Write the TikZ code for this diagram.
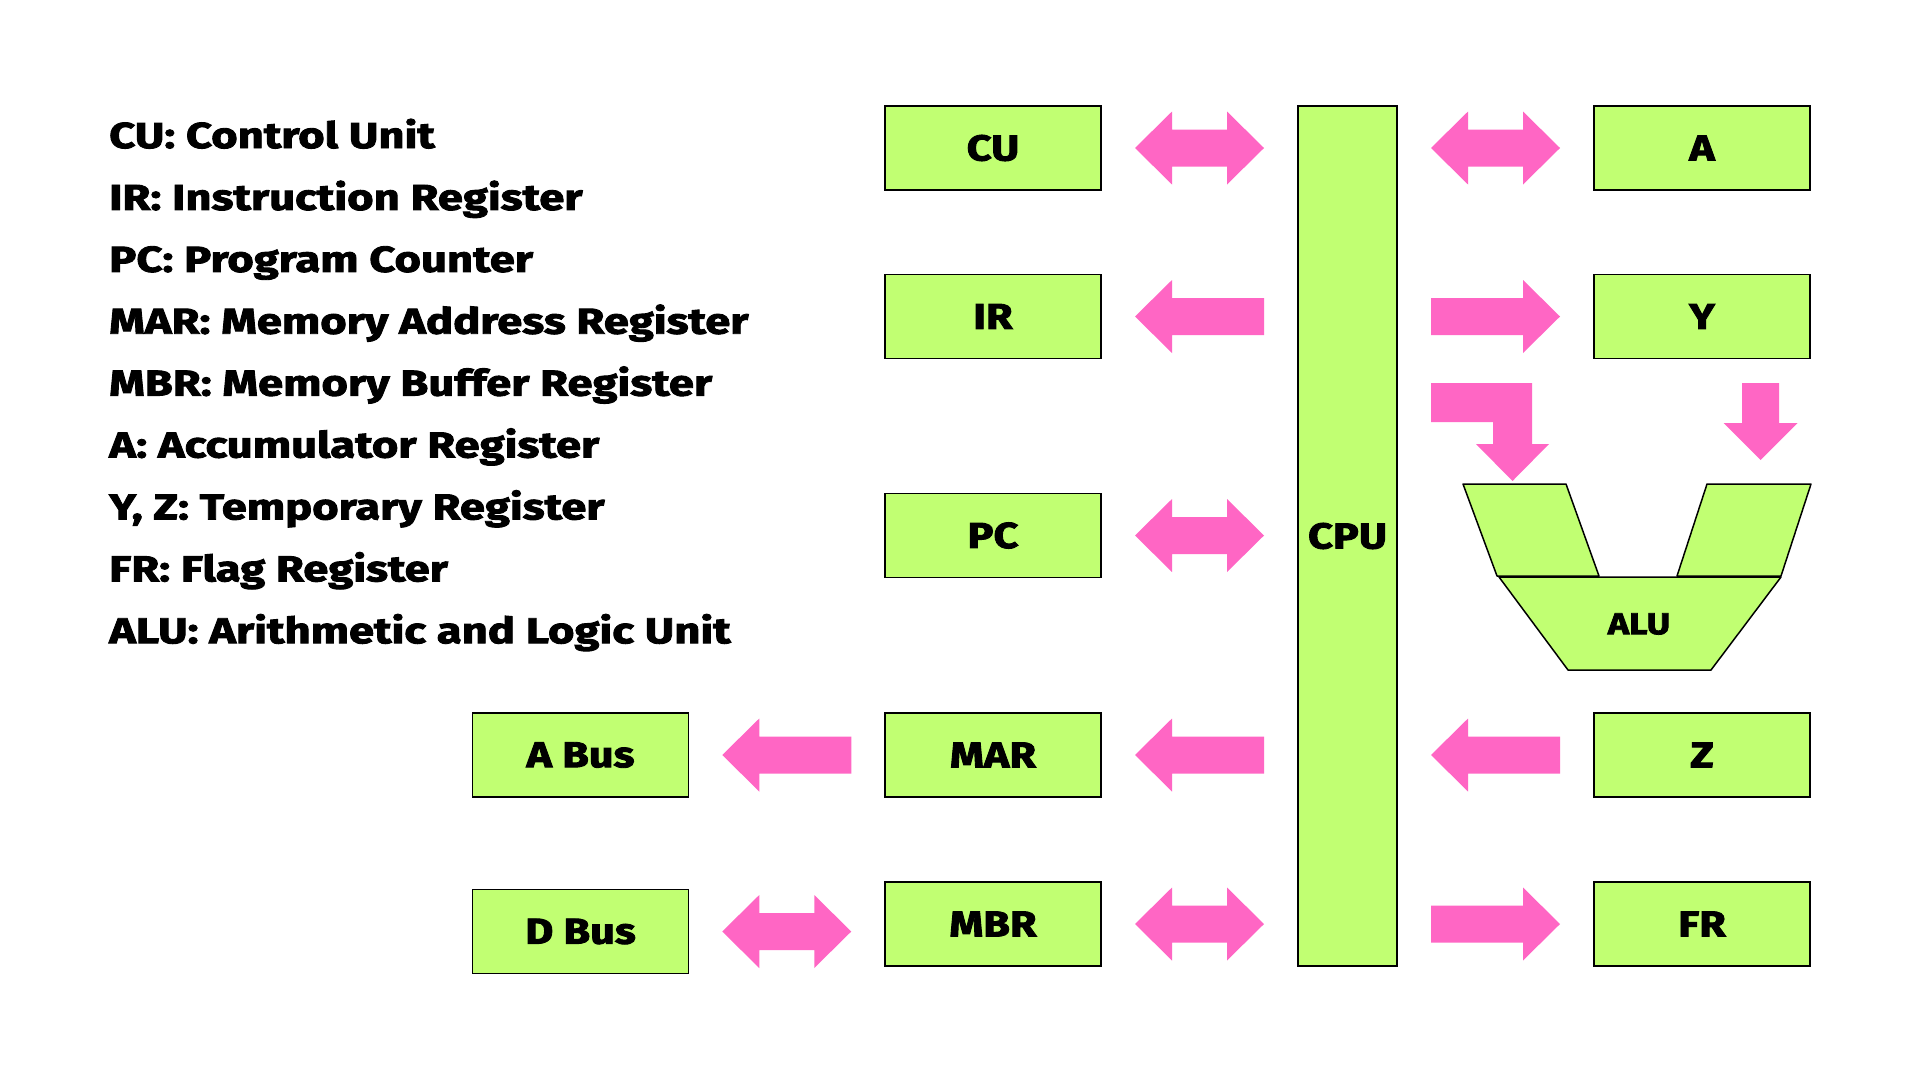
\documentclass[tikz,border=0pt]{standalone}
\usepackage{fontspec}
\setmainfont{Fira Sans}[BoldFeatures={FakeStretch=1.2, FakeBold=2.5}]
\newfontfamily\legendfont{Fira Sans}[BoldFeatures={FakeStretch=1.26, FakeBold=2.5}]
\usetikzlibrary{calc}

\definecolor{limegreen}{HTML}{C1FF72}
\definecolor{arrowpink}{HTML}{FF66C4}

\tikzset{
    reg/.style={draw=black, line width=1.5pt, fill=limegreen, minimum width=216pt,
        minimum height=84pt, inner sep=0pt, font=\fontsize{36}{40}\selectfont\bfseries},
    legend/.style={anchor=base west, inner sep=0pt, font=\legendfont\fontsize{36}{40}\selectfont\bfseries},
    alupart/.style={draw=black, line width=1.5pt, fill=limegreen, line join=round},
    pics/larr/.style={code={
        \fill[arrowpink] (-64.5,0) -- (-27.5,-36.5) -- (-27.5,-18.5) -- (64.5,-18.5)
            -- (64.5,18.5) -- (-27.5,18.5) -- (-27.5,36.5) -- cycle;}},
    pics/rarr/.style={code={
        \fill[arrowpink] (64.5,0) -- (27.5,-36.5) -- (27.5,-18.5) -- (-64.5,-18.5)
            -- (-64.5,18.5) -- (27.5,18.5) -- (27.5,36.5) -- cycle;}},
    pics/lrarr/.style={code={
        \fill[arrowpink] (-64.5,0) -- (-27.5,-36.5) -- (-27.5,-18.5) -- (27.5,-18.5)
            -- (27.5,-36.5) -- (64.5,0) -- (27.5,36.5) -- (27.5,18.5)
            -- (-27.5,18.5) -- (-27.5,36.5) -- cycle;}},
}

\begin{document}
\begin{tikzpicture}[x=1pt, y=-1pt]
            \useasboundingbox (0,0) rectangle (1920,1080);
            \fill[white] (0,0) rectangle (1920,1080);
            % legend
            \node[legend] (lcu) at (109,148) {CU: Control Unit};
            \node[legend] (lir) at (109,209.9) {IR: Instruction Register};
            \node[legend] (lpc) at (109,271.8) {PC: Program Counter};
            \node[legend] (lmar) at (109,333.7) {MAR: Memory Address Register};
            \node[legend] (lmbr) at (109,395.6) {MBR: Memory Buffer Register};
            \node[legend] (la) at (109,457.5) {A: Accumulator Register};
            \node[legend] (lyz) at (109,519.4) {Y, Z: Temporary Register};
            \node[legend] (lfr) at (109,581.3) {FR: Flag Register};
            \node[legend] (lalu) at (109,643.2) {ALU: Arithmetic and Logic Unit};
            % registers
            \node[reg] (cu) at (993,148) {CU};
            \node[reg] (ir) at (993,316.5) {IR};
            \node[reg] (pc) at (993,535.5) {PC};
            \node[reg] (mar) at (993,755) {MAR};
            \node[reg] (mbr) at (993,924) {MBR};
            \node[reg] (abus) at (580.5,755) {A Bus};
            \node[reg] (dbus) at (580.5,931.5) {D Bus};
            \node[reg, minimum width=99pt, minimum height=860pt] (cpu) at (1347.5,536) {CPU};
            \node[reg] (a) at (1702,148) {A};
            \node[reg] (y) at (1702,316.5) {Y};
            \node[reg] (z) at (1702,755) {Z};
            \node[reg] (fr) at (1702,924) {FR};
            % arrows left of the cpu
            \pic at ($(cu.east)!0.5!(cpu.west |- cu)$) {lrarr};
            \pic at ($(ir.east)!0.5!(cpu.west |- ir)$) {larr};
            \pic at ($(pc.east)!0.5!(cpu.west |- pc)$) {lrarr};
            \pic at ($(mar.east)!0.5!(cpu.west |- mar)$) {larr};
            \pic at ($(mbr.east)!0.5!(cpu.west |- mbr)$) {lrarr};
            \pic at ($(abus.east)!0.5!(mar.west)$) {larr};
            \pic at ($(dbus.east)!0.5!(mbr.west |- dbus)$) {lrarr};
            % arrows right of the cpu
            \pic at ($(cpu.east |- a)!0.5!(a.west)$) {lrarr};
            \pic at ($(cpu.east |- y)!0.5!(y.west)$) {rarr};
            \pic at ($(cpu.east |- z)!0.5!(z.west)$) {larr};
            \pic at ($(cpu.east |- fr)!0.5!(fr.west)$) {rarr};
            \fill[arrowpink] (1431,383) -- (1532,383) -- (1532,444) -- (1549,444) -- (1512.5,481)
                -- (1476,444) -- (1493,444) -- (1493,422) -- (1431,422) -- cycle;
            \fill[arrowpink] (1742,383) -- (1779,383) -- (1779,423) -- (1797.5,423) -- (1760.5,460)
                -- (1723.5,423) -- (1742,423) -- cycle;
            % alu
            \draw[alupart] (1463,484) -- (1566,484) -- (1599,576) -- (1497,576) -- cycle;
            \draw[alupart] (1707,484) -- (1811,484) -- (1781,576) -- (1677,576) -- cycle;
            \draw[alupart] (1499,577) -- (1781,577) -- (1711,670) -- (1568,670) -- cycle;
            \node[font=\fontsize{30}{34}\selectfont\bfseries] (alu) at (1639,624) {ALU};
\end{tikzpicture}
\end{document}
